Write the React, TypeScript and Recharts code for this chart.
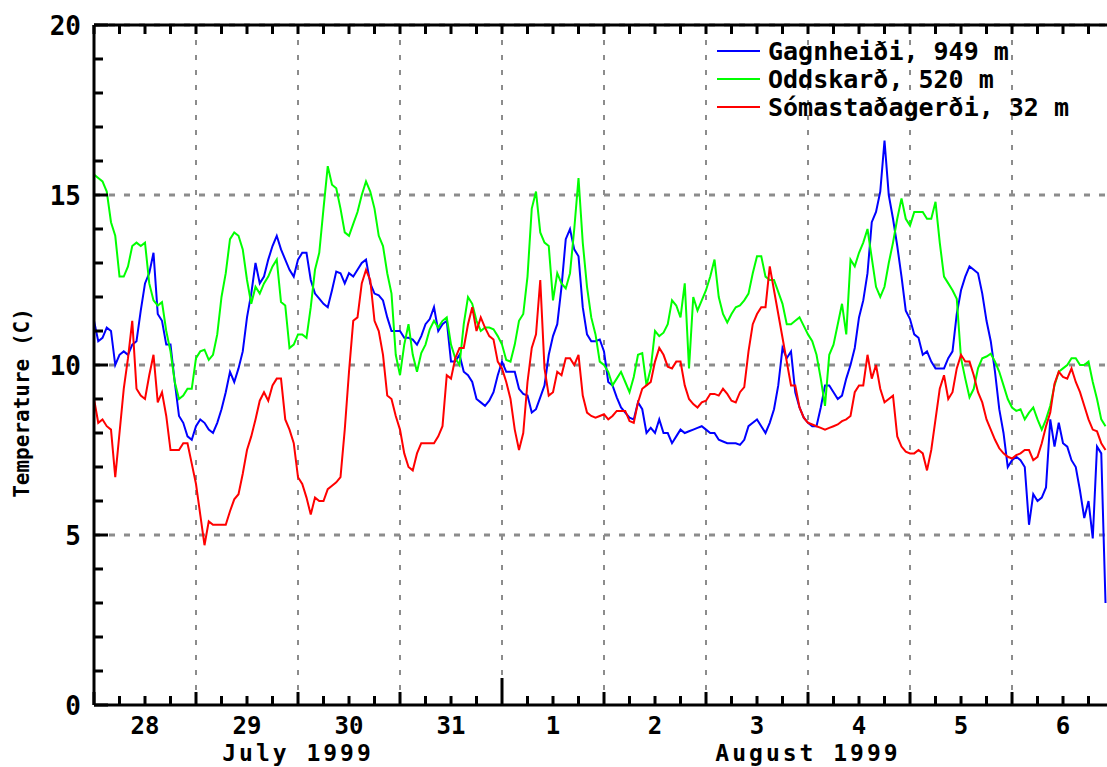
import { LineChart, Line, XAxis, YAxis, CartesianGrid, Legend, Label } from 'recharts';

const FONT = 'DejaVu Sans Mono';

// hours since 28 July 1999 00:00, one reading per hour
const hours = Array.from({ length: 239 }, (_, i) => i);

const gagnheidi = [
  11.3, 10.7, 10.8, 11.1, 11.0, 10.0, 10.3, 10.4, 10.3, 10.6, 10.7, 11.6, 12.4, 12.7, 13.3, 11.5, 11.3, 10.6, 10.6, 9.5, 8.5, 8.3, 7.9, 7.8,
  8.2, 8.4, 8.3, 8.1, 8.0, 8.3, 8.7, 9.2, 9.8, 9.5, 9.9, 10.4, 11.4, 12.1, 13.0, 12.4, 12.6, 13.1, 13.5, 13.8, 13.4, 13.1, 12.8, 12.6,
  13.1, 13.3, 13.3, 12.5, 12.1, 11.95, 11.8, 11.7, 12.2, 12.75, 12.7, 12.4, 12.7, 12.6, 12.8, 13.0, 13.1, 12.4, 12.1, 12.05, 11.9, 11.4, 11.0, 11.0,
  11.0, 10.8, 10.8, 10.75, 10.6, 10.85, 11.2, 11.35, 11.7, 11.0, 11.2, 11.3, 10.1, 10.1, 10.3, 9.8, 9.7, 9.5, 9.0, 8.9, 8.8, 8.95, 9.2, 9.7,
  10.1, 9.8, 9.8, 9.8, 9.3, 9.15, 9.1, 8.6, 8.7, 9.05, 9.4, 10.3, 10.85, 11.2, 12.3, 13.7, 14.0, 13.4, 13.2, 11.7, 10.9, 10.7, 10.7, 10.75,
  10.4, 9.5, 9.4, 9.05, 8.75, 8.6, 8.45, 8.4, 8.9, 8.7, 8.0, 8.15, 8.0, 8.4, 8.0, 8.0, 7.7, 7.9, 8.1, 8.0, 8.05, 8.1, 8.15, 8.2,
  8.1, 8.0, 8.0, 7.8, 7.75, 7.7, 7.7, 7.7, 7.65, 7.8, 8.2, 8.3, 8.4, 8.2, 8.0, 8.3, 8.7, 9.4, 10.5, 10.2, 10.4, 9.2, 8.75, 8.45,
  8.3, 8.2, 8.2, 8.75, 9.4, 9.4, 9.2, 9.0, 9.1, 9.6, 10.0, 10.5, 11.4, 11.9, 12.7, 14.2, 14.5, 15.1, 16.6, 15.0, 14.3, 13.5, 12.6, 11.6,
  11.35, 10.9, 10.8, 10.3, 10.4, 10.1, 9.9, 9.9, 9.9, 10.2, 10.4, 11.5, 12.2, 12.6, 12.9, 12.8, 12.7, 12.1, 11.3, 10.7, 9.8, 8.7, 8.0, 7.0,
  7.2, 7.3, 7.2, 7.0, 5.3, 6.2, 6.0, 6.1, 6.4, 8.4, 7.6, 8.3, 7.7, 7.6, 7.2, 7.0, 6.3, 5.5, 6.0, 4.9, 7.6, 7.4, 3.0,
];

const oddskard = [
  15.6, 15.5, 15.4, 15.1, 14.2, 13.8, 12.6, 12.6, 12.9, 13.5, 13.6, 13.5, 13.6, 12.4, 11.9, 11.75, 11.85, 11.0, 10.4, 9.5, 9.0, 9.1, 9.3, 9.3,
  10.2, 10.4, 10.45, 10.15, 10.3, 10.9, 12.0, 12.7, 13.7, 13.9, 13.8, 13.4, 12.5, 11.8, 12.3, 12.1, 12.4, 12.6, 12.9, 13.1, 11.85, 11.75, 10.5, 10.6,
  10.9, 10.9, 10.8, 11.7, 12.8, 13.3, 14.6, 15.85, 15.3, 15.2, 14.6, 13.9, 13.8, 14.15, 14.5, 15.0, 15.4, 15.1, 14.6, 13.8, 13.5, 12.7, 12.1, 10.3,
  9.7, 10.6, 11.2, 10.3, 9.8, 10.35, 10.6, 11.05, 11.3, 11.1, 11.3, 11.4, 10.6, 10.2, 10.0, 11.2, 12.0, 11.8, 11.3, 11.0, 11.1, 11.1, 11.05, 10.85,
  10.6, 10.15, 10.1, 10.6, 11.3, 11.5, 12.6, 14.6, 15.1, 13.9, 13.6, 13.5, 11.9, 12.7, 12.4, 12.25, 12.7, 14.0, 15.5, 13.6, 12.3, 11.4, 10.9, 10.1,
  10.0, 9.8, 9.4, 9.6, 9.8, 9.5, 9.2, 9.65, 10.3, 10.35, 9.4, 9.9, 11.0, 10.85, 10.95, 11.2, 11.9, 11.75, 11.4, 12.4, 9.9, 12.0, 11.6, 11.9,
  12.2, 12.6, 13.1, 12.0, 11.5, 11.25, 11.5, 11.7, 11.75, 11.9, 12.1, 12.7, 13.2, 13.2, 12.6, 12.5, 12.5, 12.15, 11.8, 11.2, 11.2, 11.3, 11.4, 11.15,
  10.9, 10.7, 10.3, 9.6, 8.8, 10.3, 10.6, 11.2, 11.8, 10.9, 13.1, 12.9, 13.3, 13.6, 14.0, 13.15, 12.3, 12.0, 12.3, 13.0, 13.6, 14.3, 14.9, 14.3,
  14.1, 14.5, 14.5, 14.5, 14.3, 14.3, 14.8, 13.6, 12.6, 12.4, 12.2, 11.95, 10.2, 9.6, 9.05, 9.3, 9.9, 10.2, 10.25, 10.33, 10.1, 9.8, 9.4, 9.0,
  8.75, 8.65, 8.7, 8.4, 8.6, 8.75, 8.4, 8.1, 8.4, 8.8, 9.4, 9.8, 9.9, 10.0, 10.2, 10.2, 10.0, 10.0, 10.1, 9.5, 9.0, 8.4, 8.2,
];

const somastadagerdi = [
  9.0, 8.3, 8.4, 8.2, 8.1, 6.7, 8.0, 9.3, 10.2, 11.3, 9.3, 9.1, 9.0, 9.7, 10.3, 8.9, 9.2, 8.5, 7.5, 7.5, 7.5, 7.7, 7.7, 7.1,
  6.5, 5.6, 4.7, 5.4, 5.3, 5.3, 5.3, 5.3, 5.7, 6.05, 6.2, 6.8, 7.5, 7.9, 8.4, 8.95, 9.2, 8.95, 9.4, 9.6, 9.6, 8.4, 8.1, 7.7,
  6.7, 6.5, 6.1, 5.6, 6.1, 6.0, 6.0, 6.35, 6.45, 6.55, 6.7, 8.1, 9.8, 11.3, 11.4, 12.4, 12.8, 12.5, 11.3, 11.0, 10.3, 9.1, 9.0, 8.5,
  8.1, 7.4, 7.0, 6.9, 7.4, 7.7, 7.7, 7.7, 7.7, 7.9, 8.2, 9.7, 9.6, 10.2, 10.5, 10.5, 11.2, 11.7, 11.0, 11.4, 11.1, 10.85, 10.75, 10.1,
  9.9, 9.5, 9.0, 8.1, 7.5, 8.0, 9.5, 10.5, 10.9, 12.5, 9.9, 9.1, 9.2, 9.8, 9.7, 10.2, 10.2, 10.0, 10.3, 9.1, 8.6, 8.5, 8.45, 8.5,
  8.55, 8.4, 8.5, 8.65, 8.65, 8.65, 8.35, 8.3, 8.9, 9.3, 9.4, 9.5, 10.1, 10.5, 10.3, 9.95, 9.9, 10.1, 10.1, 9.4, 9.0, 8.85, 8.75, 8.9,
  8.95, 9.15, 9.15, 9.1, 9.3, 9.15, 8.95, 8.9, 9.2, 9.35, 10.4, 11.2, 11.5, 11.7, 11.7, 12.9, 12.2, 11.5, 10.8, 10.1, 9.4, 9.4, 8.75, 8.45,
  8.3, 8.25, 8.2, 8.15, 8.1, 8.15, 8.2, 8.25, 8.35, 8.4, 8.5, 9.2, 9.4, 9.4, 10.3, 9.6, 10.0, 9.3, 8.9, 9.0, 9.1, 7.9, 7.6, 7.45,
  7.4, 7.4, 7.5, 7.4, 6.9, 7.5, 8.4, 9.3, 9.7, 9.0, 9.2, 9.9, 10.3, 10.1, 10.1, 9.7, 9.2, 8.9, 8.4, 8.1, 7.8, 7.55, 7.4, 7.3,
  7.25, 7.35, 7.4, 7.5, 7.5, 7.2, 7.3, 7.7, 8.2, 8.6, 9.45, 9.8, 9.65, 9.6, 9.9, 9.5, 9.2, 8.8, 8.4, 8.1, 8.05, 7.7, 7.5,
];

const dayLabels = ['28', '29', '30', '31', '1', '2', '3', '4', '5', '6'];
const monthLabels = [
  { h: 48, text: 'July 1999' },
  { h: 168, text: 'August 1999' },
];

const xTicks = Array.from({ length: 40 }, (_, i) => i * 6);
const dayLines = [24, 48, 72, 96, 120, 144, 168, 192, 216];
const yTicks = Array.from({ length: 21 }, (_, i) => i);
const yLines = [5, 10, 15, 20];

const data = hours.map((h, i) => ({
  h,
  gag: gagnheidi[i],
  odd: oddskard[i],
  som: somastadagerdi[i],
}));

function BottomTick(props: any) {
  const { x, y, payload } = props;
  const h = payload.value;
  const len = h === 96 ? 27 : h % 24 === 0 ? 13 : 9;
  const day = h % 24 === 12 ? dayLabels[(h - 12) / 24] : null;
  const month = monthLabels.find((m) => m.h === h);
  return (
    <g>
      <line x1={x} x2={x} y1={y} y2={y - len} stroke="#000" strokeWidth={3} />
      {day && (
        <text x={x} y={y + 29} textAnchor="middle" fontFamily={FONT} fontWeight="bold" fontSize={24} fill="#000">
          {day}
        </text>
      )}
      {month && (
        <text
          x={x}
          y={y + 56}
          textAnchor="middle"
          fontFamily={FONT}
          fontWeight="bold"
          fontSize={23}
          letterSpacing={3}
          fill="#000"
        >
          {month.text}
        </text>
      )}
    </g>
  );
}

function TopTick(props: any) {
  const { x, y } = props;
  return <line x1={x} x2={x} y1={y} y2={y + 9} stroke="#000" strokeWidth={3} />;
}

function LeftTick(props: any) {
  const { x, y, payload } = props;
  const v = payload.value;
  const major = v % 5 === 0;
  return (
    <g>
      <line x1={x} x2={x + (major ? 14 : 9)} y1={y} y2={y} stroke="#000" strokeWidth={3} />
      {major && (
        <text x={x - 13} y={y + 10} textAnchor="end" fontFamily={FONT} fontWeight="bold" fontSize={26} fill="#000">
          {v}
        </text>
      )}
    </g>
  );
}

function RightTick(props: any) {
  const { x, y, payload } = props;
  const len = payload.value % 5 === 0 ? 7 : 3;
  return <line x1={x - len} x2={x} y1={y} y2={y} stroke="#000" strokeWidth={3} />;
}

function LegendBox(props: any) {
  const { payload } = props;
  return (
    <div style={{ fontFamily: FONT, fontWeight: 'bold', fontSize: 25, color: '#000' }}>
      {(payload || []).map((item: any) => (
        <div key={item.value} style={{ display: 'flex', alignItems: 'center', height: 28 }}>
          <svg width={51} height={28}>
            <line x1={0} x2={43} y1={14} y2={14} stroke={item.color} strokeWidth={2} />
          </svg>
          <span style={{ whiteSpace: 'pre' }}>{item.value}</span>
        </div>
      ))}
    </div>
  );
}

function YTitle(props: any) {
  const vb = props.viewBox;
  const cx = vb.x + 29;
  const cy = vb.y + vb.height / 2 + 38;
  return (
    <text
      x={cx}
      y={cy}
      transform={`rotate(-90, ${cx}, ${cy})`}
      textAnchor="middle"
      fontFamily={FONT}
      fontWeight="bold"
      fontSize={21}
      fill="#000"
    >
      Temperature (C)
    </text>
  );
}

export default function App() {
  return (
    <div style={{ position: 'absolute', left: 0, top: 0, background: '#fff' }}>
      <LineChart
        width={1107}
        height={767}
        data={data}
        margin={{ top: 0, right: 0, bottom: 0, left: 0 }}
        style={{ fontFamily: FONT }}
      >
        <CartesianGrid
          vertical={false}
          horizontalValues={yLines}
          stroke="#8c8c8c"
          strokeWidth={3}
          strokeDasharray="6 9"
        />
        <CartesianGrid
          horizontal={false}
          verticalValues={dayLines}
          stroke="#8c8c8c"
          strokeWidth={2}
          strokeDasharray="5 10"
        />
        <XAxis
          dataKey="h"
          type="number"
          domain={[0, 238.35]}
          allowDataOverflow
          ticks={xTicks}
          interval={0}
          height={62}
          tickSize={0}
          tickMargin={0}
          tickLine={false}
          axisLine={{ stroke: '#000', strokeWidth: 3 }}
          tick={<BottomTick />}
        />
        <XAxis
          xAxisId="top"
          orientation="top"
          dataKey="h"
          type="number"
          domain={[0, 238.35]}
          allowDataOverflow
          ticks={xTicks}
          interval={0}
          height={25}
          tickSize={0}
          tickMargin={0}
          tickLine={false}
          axisLine={{ stroke: '#000', strokeWidth: 3 }}
          tick={<TopTick />}
        />
        <YAxis
          type="number"
          domain={[0, 20]}
          allowDataOverflow
          ticks={yTicks}
          interval={0}
          width={94}
          tickSize={0}
          tickMargin={0}
          tickLine={false}
          axisLine={{ stroke: '#000', strokeWidth: 3 }}
          tick={<LeftTick />}
        >
          <Label content={<YTitle />} />
        </YAxis>
        <YAxis
          yAxisId="right"
          orientation="right"
          type="number"
          domain={[0, 20]}
          allowDataOverflow
          ticks={yTicks}
          interval={0}
          width={0}
          tickSize={0}
          tickMargin={0}
          tickLine={false}
          axisLine={false}
          tick={<RightTick />}
        />
        <Legend
          layout="vertical"
          align="center"
          verticalAlign="middle"
          content={<LegendBox />}
          wrapperStyle={{ left: 717, top: 37, width: 390 }}
        />
        <Line
          name="Gagnheiði, 949 m"
          dataKey="gag"
          type="linear"
          stroke="#0000ff"
          strokeWidth={2}
          dot={false}
          isAnimationActive={false}
        />
        <Line
          name="Oddskarð, 520 m"
          dataKey="odd"
          type="linear"
          stroke="#00ff00"
          strokeWidth={2}
          dot={false}
          isAnimationActive={false}
        />
        <Line
          name="Sómastaðagerði, 32 m"
          dataKey="som"
          type="linear"
          stroke="#ff0000"
          strokeWidth={2}
          dot={false}
          isAnimationActive={false}
        />
      </LineChart>
    </div>
  );
}
